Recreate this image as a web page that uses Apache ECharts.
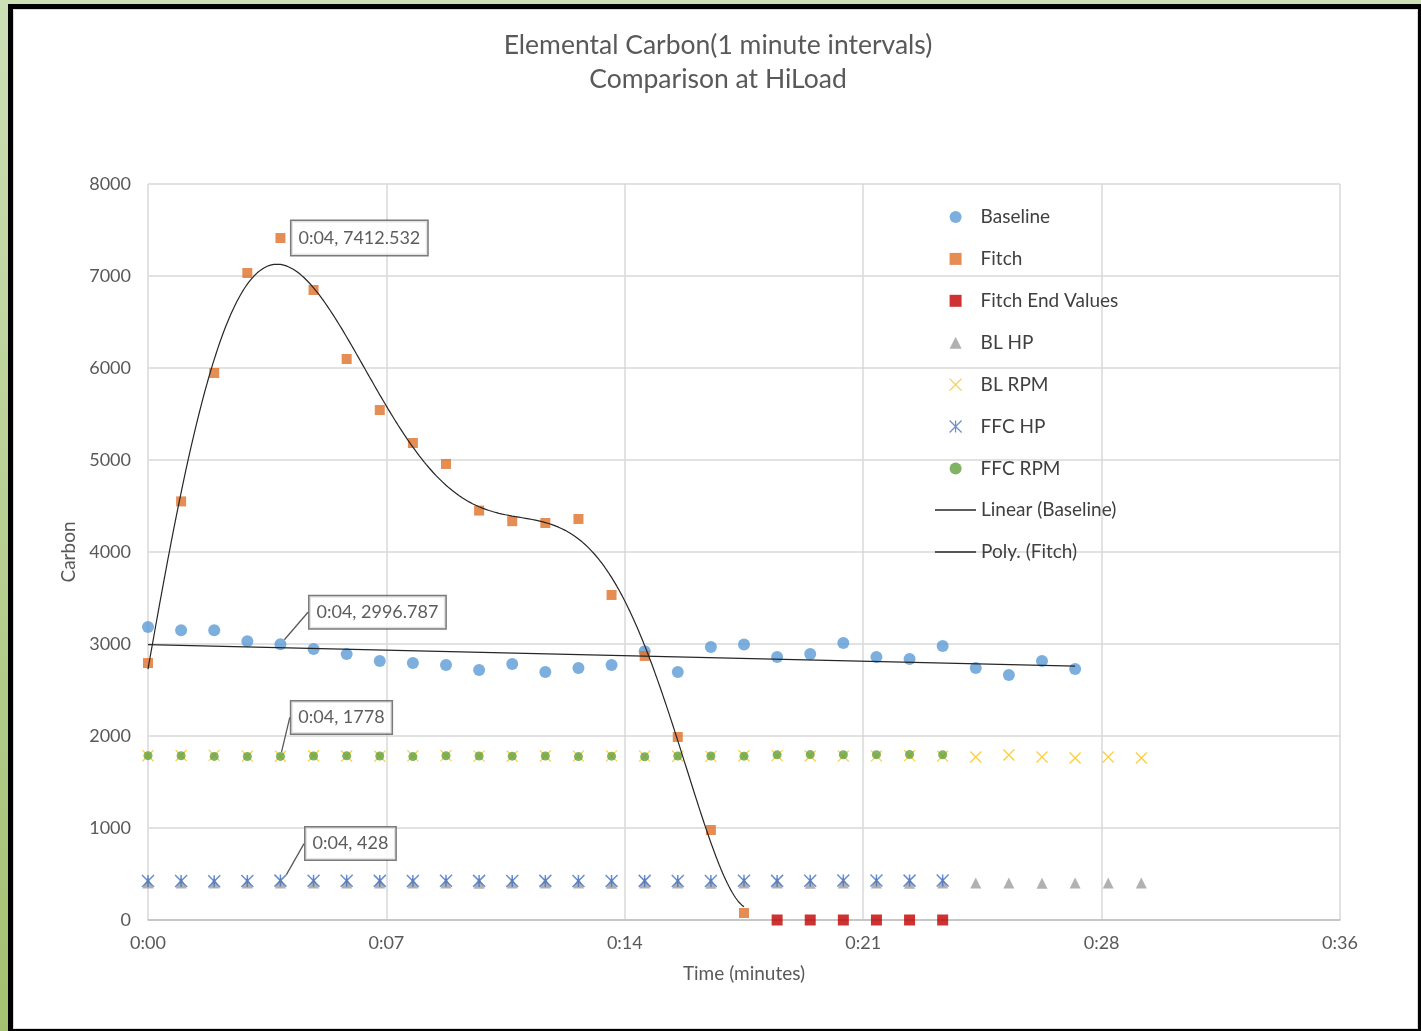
<!DOCTYPE html>
<html><head><meta charset="utf-8">
<script src="https://cdn.jsdelivr.net/npm/echarts@6/dist/echarts.min.js"></script>
<style>
html,body{margin:0;padding:0;width:1421px;height:1031px;overflow:hidden;}
body{background:linear-gradient(180deg,#cddfb5 0%,#a4c071 100%);}
#frame{position:absolute;left:8px;top:4px;width:1413px;height:1027px;box-sizing:border-box;border:5px solid #000;border-right-width:3px;border-bottom-width:2px;background:#fff;box-shadow:inset 0 0 0 1px #d9d9d9;}
#chart{position:absolute;left:0;top:0;width:1421px;height:1031px;}
</style></head><body><div id="frame"></div><div id="chart"></div>
<script>
// ---- data (x = minute index, 1 minute intervals) ----
const baseline = [3185,3150,3150,3030,2996.787,2946,2890,2815,2793,2772,2717,2783,2696,2739,2772,2920,2696,2967,2995,2859,2891,3011,2859,2837,2978,2739,2663,2815,2728];
const fitch = [2793,4550,5946,7033,7412.532,6848,6098,5543,5185,4957,4450,4335,4315,4359,3533,2870,1989,978,76];
const fitchEndStart = 19;
const fitchEnd = [0,0,0,0,0,0];
const blHP = [402,401,402,401,403,402,401,402,401,402,400,401,402,401,400,402,401,400,401,402,400,401,402,400,401,402,401,400,401,402,401];
const blRPM = [1785,1788,1790,1782,1780,1785,1783,1780,1784,1786,1782,1780,1783,1781,1784,1782,1780,1778,1785,1787,1783,1782,1784,1786,1781,1772,1793,1772,1761,1772,1761];
const ffcHP = [424,423,422,423,428,426,427,425,424,426,425,424,425,423,424,425,424,423,427,425,426,429,430,428,430];
const ffcRPM = [1786,1785,1778,1777,1778,1782,1784,1783,1776,1785,1782,1781,1783,1776,1781,1775,1783,1782,1781,1795,1798,1796,1797,1799,1796];
const yTicks = {min:0, max:8000, interval:1000};
const xTicks = {min:0, max:36, interval:7.2};
const labelIndex = 4;

function pts(arr, start){ return arr.map((v,i)=>[i+(start||0), v]); }
function pad(n){ n=Math.floor(n+1e-6); return (n<10?'0':'')+n; }

// least squares polynomial fit (trendlines)
function polyfit(xs, ys, deg){
  const s = Math.max(...xs) || 1, n = deg+1;
  const A = Array.from({length:n},()=>new Array(n).fill(0)), b = new Array(n).fill(0);
  xs.forEach((x,k)=>{ const t=x/s; for(let i=0;i<n;i++){ b[i]+=ys[k]*Math.pow(t,i); for(let j=0;j<n;j++) A[i][j]+=Math.pow(t,i+j);} });
  for(let c=0;c<n;c++){ let p=c; for(let r=c+1;r<n;r++) if(Math.abs(A[r][c])>Math.abs(A[p][c])) p=r;
    [A[c],A[p]]=[A[p],A[c]]; [b[c],b[p]]=[b[p],b[c]];
    for(let r=c+1;r<n;r++){ const f=A[r][c]/A[c][c]; for(let j=c;j<n;j++) A[r][j]-=f*A[c][j]; b[r]-=f*b[c]; } }
  const co=new Array(n).fill(0);
  for(let i=n-1;i>=0;i--){ let sum=b[i]; for(let j=i+1;j<n;j++) sum-=A[i][j]*co[j]; co[i]=sum/A[i][i]; }
  return x=>{ const t=x/s; let v=0; for(let i=n-1;i>=0;i--) v=v*t+co[i]; return v; };
}
const bx = baseline.map((_,i)=>i), fx = fitch.map((_,i)=>i);
const linF = polyfit(bx, baseline, 1);
const polyF = polyfit(fx, fitch, 6);
const linPts = [[bx[0], linF(bx[0])],[bx[bx.length-1], linF(bx[bx.length-1])]];
const polyPts = []; for(let k=0;k<=fx[fx.length-1]*20;k++){ const x=k/20; polyPts.push([x, polyF(x)]); }

const FONT = 'Lato';
const labelBase = {
  formatter: p => '0:' + pad(p.value[0]) + ', ' + p.value[1],
  color:'#333333', fontFamily:FONT, fontSize:18, lineHeight:20,
  backgroundColor:'#fff', borderColor:'#595959', borderWidth:1.5, padding:[6,7,6,7]
};
function withLabel(arr, start){
  return arr.map((v,i)=> i===labelIndex ? {value:[i+(start||0), v], label:{show:true}} : [i+(start||0), v]);
}
const X_PATH = 'path://M0,0L10,10M10,0L0,10';
const AST_PATH = 'path://M0,0L10,10M10,0L0,10M5,0L5,10';

const chart = echarts.init(document.getElementById('chart'), null, {renderer:'canvas'});
chart.setOption({
  animation:false,
  title:{ text:'Elemental Carbon(1 minute intervals)\nComparison at HiLoad', left:713, textAlign:'center', top:23,
    textStyle:{ color:'#595959', fontFamily:FONT, fontSize:26.5, fontWeight:'normal', lineHeight:34 } },
  grid:{ left:148, right:81, top:184, bottom:111 },
  legend:[
    { orient:'vertical', left:944, top:202, itemWidth:12, itemHeight:12, itemGap:21.9,
      textStyle:{ color:'#404040', fontFamily:FONT, fontSize:19, lineHeight:20, padding:[0,0,0,14] },
      data:[
        {name:'Baseline'}, {name:'Fitch'}, {name:'Fitch End Values'}, {name:'BL HP'},
        {name:'BL RPM', itemStyle:{color:'transparent', borderColor:'#FFC000', borderWidth:1.2}},
        {name:'FFC HP', itemStyle:{color:'transparent', borderColor:'#4472C4', borderWidth:1.2}},
        {name:'FFC RPM'}
      ] },
    { orient:'vertical', left:930, top:495, itemWidth:41, itemHeight:1.5, itemGap:21.9, icon:'rect',
      textStyle:{ color:'#404040', fontFamily:FONT, fontSize:19, lineHeight:20 },
      data:['Linear (Baseline)','Poly. (Fitch)'] }
  ],
  xAxis:{ type:'value', min:xTicks.min, max:xTicks.max, interval:xTicks.interval,
    name:'Time (minutes)', nameLocation:'middle', nameGap:44,
    nameTextStyle:{ color:'#595959', fontFamily:FONT, fontSize:19 },
    axisLine:{ lineStyle:{ color:'#bfbfbf', width:1.5 } }, axisTick:{ show:false },
    axisLabel:{ color:'#595959', fontFamily:FONT, fontSize:18, margin:14, formatter:v=>'0:'+pad(v) },
    splitLine:{ show:true, lineStyle:{ color:'#d9d9d9', width:1.5 } } },
  yAxis:{ type:'value', min:yTicks.min, max:yTicks.max, interval:yTicks.interval,
    name:'Carbon', nameLocation:'middle', nameGap:63, nameRotate:90,
    nameTextStyle:{ color:'#595959', fontFamily:FONT, fontSize:19 },
    axisLine:{ show:false }, axisTick:{ show:false },
    axisLabel:{ color:'#595959', fontFamily:FONT, fontSize:18, margin:17, formatter:v=>String(v) },
    splitLine:{ show:true, lineStyle:{ color:'#d9d9d9', width:1.5 } } },
  series:[
    { name:'Baseline', type:'scatter', symbol:'circle', symbolSize:12, itemStyle:{color:'#5B9BD5'},
      data:withLabel(baseline), label:labelBase, labelLayout:{dx:97, dy:-32},
      labelLine:{show:true, lineStyle:{color:'#595959', width:1.3}} },
    { name:'Fitch', type:'scatter', symbol:'rect', symbolSize:10, itemStyle:{color:'#E07028'},
      data:withLabel(fitch), label:Object.assign({}, labelBase, {position:'right', distance:6, padding:[7,7,7,7]}) },
    { name:'Fitch End Values', type:'scatter', symbol:'rect', symbolSize:11, itemStyle:{color:'#C00000'},
      data:pts(fitchEnd, fitchEndStart) },
    { name:'BL HP', type:'scatter', symbol:'triangle', symbolSize:11, itemStyle:{color:'#9E9E9E'},
      data:pts(blHP) },
    { name:'BL RPM', type:'scatter', symbol:X_PATH, symbolSize:11,
      itemStyle:{color:'transparent', borderColor:'#FFC000', borderWidth:1.2}, data:pts(blRPM) },
    { name:'FFC HP', type:'scatter', symbol:AST_PATH, symbolSize:12,
      itemStyle:{color:'transparent', borderColor:'#4472C4', borderWidth:1.5},
      data:withLabel(ffcHP), label:labelBase, labelLayout:{dx:70, dy:-37},
      labelLine:{show:true, lineStyle:{color:'#595959', width:1.3}} },
    { name:'FFC RPM', type:'scatter', symbol:'circle', symbolSize:9, itemStyle:{color:'#62A03F'},
      data:withLabel(ffcRPM), label:labelBase, labelLayout:{dx:61, dy:-39},
      labelLine:{show:true, lineStyle:{color:'#595959', width:1.3}} },
    { name:'Linear (Baseline)', type:'line', data:linPts, showSymbol:false, symbol:'none',
      lineStyle:{color:'#262626', width:1.2}, itemStyle:{color:'#262626'}, z:5 },
    { name:'Poly. (Fitch)', type:'line', data:polyPts, showSymbol:false, symbol:'none',
      lineStyle:{color:'#262626', width:1.2}, itemStyle:{color:'#262626'}, z:5 }
  ]
});
</script></body></html>
